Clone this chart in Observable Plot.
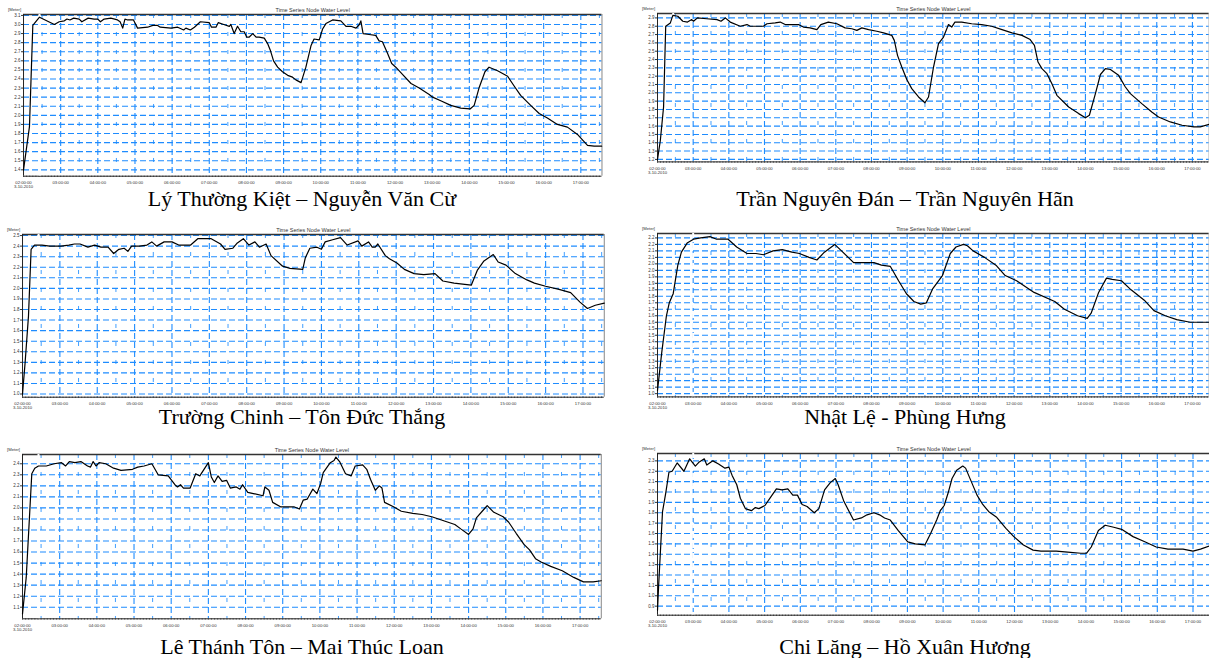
<!DOCTYPE html>
<html>
<head>
<meta charset="utf-8">
<script src="https://cdn.jsdelivr.net/npm/d3@7"></script>
<script src="https://cdn.jsdelivr.net/npm/@observablehq/plot@0.6"></script>
<style>
  html, body { margin: 0; padding: 0; background: #fff; overflow: hidden; }
  #page { position: relative; width: 1209px; height: 658px; overflow: hidden; }
  .panel { position: absolute; }
  .caption { position: absolute; font-family: "Liberation Serif", "DejaVu Serif", serif; font-size: 22px; line-height: 22px; color: #000; white-space: nowrap; transform: translateX(-50%); }
</style>
</head>
<body>
<div id="page"></div>
<script>
// ---------------- DATA ----------------
const chartTitle = "Time Series Node Water Level";
const unitLabel = "[Meter]";
const hourTicks = [2, 3, 4, 5, 6, 7, 8, 9, 10, 11, 12, 13, 14, 15, 16, 17];
const hourLabels = ["02:00:00\n3-10-2010", "03:00:00", "04:00:00", "05:00:00", "06:00:00", "07:00:00", "08:00:00", "09:00:00",
  "10:00:00", "11:00:00", "12:00:00", "13:00:00", "14:00:00", "15:00:00", "16:00:00", "17:00:00"];
const captions = ["Lý Thường Kiệt – Nguyễn Văn Cừ", "Trần Nguyên Đán – Trần Nguyên Hãn", "Trường Chinh – Tôn Đức Thắng",
  "Nhật Lệ - Phùng Hưng", "Lê Thánh Tôn – Mai Thúc Loan", "Chi Lăng – Hồ Xuân Hương"];

// Panel 1: Lý Thường Kiệt – Nguyễn Văn Cừ
const p1Hours = [2.0, 2.16, 2.25, 2.43, 2.83, 2.96, 3.10, 3.17, 3.25, 3.35, 3.50, 3.57, 3.74, 3.90, 4.0, 4.07, 4.17, 4.35, 4.53, 4.60, 4.67, 4.73, 4.80, 4.96, 5.07, 5.34, 5.48, 5.61, 5.68, 5.97, 6.15, 6.31, 6.37, 6.49, 6.60, 6.76, 7.0, 7.06, 7.18, 7.24, 7.39, 7.54, 7.58, 7.67, 7.76, 7.85, 7.94, 8.01, 8.07, 8.17, 8.26, 8.34, 8.48, 8.57, 8.64, 8.73, 8.84, 8.97, 9.11, 9.24, 9.33, 9.47,
  9.60, 9.74, 9.82, 9.96, 10.05, 10.14, 10.32, 10.54, 10.68, 10.81, 10.95, 11.04, 11.08, 11.14, 11.30, 11.48, 11.57, 11.66, 11.80, 11.91, 12.02, 12.20, 12.43, 12.65, 12.92, 13.01, 13.23, 13.50, 13.77, 14.02, 14.13, 14.26, 14.42, 14.53, 14.76, 15.03, 15.21, 15.38, 15.65, 15.88, 16.10, 16.37, 16.64, 16.91, 17.18, 17.36, 17.56];
const p1Levels = [1.40, 1.875, 2.99, 3.08, 3.00, 3.03, 3.04, 3.06, 3.05, 3.07, 3.06, 3.03, 3.07, 3.06, 3.06, 3.03, 3.06, 3.07, 3.05, 3.03, 2.96, 3.06, 3.05, 3.05, 2.96, 2.97, 2.99, 2.99, 2.97, 2.96, 2.97, 2.94, 2.96, 2.94, 2.97, 3.03, 3.02, 2.97, 2.97, 3.02, 3.00, 2.98, 3.00, 2.90, 2.98, 2.92, 2.92, 2.86, 2.86, 2.90, 2.86, 2.86, 2.85, 2.79, 2.72, 2.60, 2.53, 2.48, 2.44, 2.42, 2.39, 2.36,
  2.53, 2.77, 2.84, 2.83, 2.95, 3.01, 3.05, 3.04, 2.98, 2.98, 2.96, 3.00, 3.04, 2.90, 2.89, 2.88, 2.82, 2.81, 2.68, 2.57, 2.53, 2.45, 2.35, 2.30, 2.23, 2.20, 2.16, 2.11, 2.08, 2.07, 2.11, 2.30, 2.48, 2.53, 2.49, 2.43, 2.32, 2.22, 2.11, 2.02, 1.97, 1.90, 1.87, 1.79, 1.67, 1.66, 1.66];

// Panel 2: Trần Nguyên Đán – Trần Nguyên Hãn
const p2Hours = [2.0, 2.08, 2.17, 2.23, 2.36, 2.43, 2.57, 2.71, 2.84, 2.96, 3.01, 3.12, 3.38, 3.67, 3.78, 3.90, 4.04, 4.32, 4.51, 4.60, 4.74, 4.97, 5.07, 5.30, 5.44, 5.58, 5.77, 5.95, 6.09, 6.28, 6.47, 6.58, 6.79, 7.03, 7.26, 7.45, 7.59, 7.73, 7.92, 8.15, 8.34, 8.57, 8.64, 8.73, 8.85, 8.99,
  9.13, 9.32, 9.50, 9.60, 9.74, 9.88, 10.02, 10.16, 10.25, 10.34, 10.53, 10.81, 11.09, 11.37, 11.66, 11.94, 12.22, 12.45, 12.57, 12.67, 12.78, 12.92, 13.06, 13.20, 13.53, 13.81, 14.0, 14.11, 14.28, 14.42, 14.56, 14.70, 14.93, 15.12, 15.26, 15.58, 15.86, 16.05, 16.38, 16.71, 17.04, 17.22, 17.47];
const p2Levels = [1.20, 1.43, 1.83, 2.80, 2.84, 2.93, 2.92, 2.86, 2.85, 2.88, 2.86, 2.90, 2.89, 2.88, 2.86, 2.90, 2.85, 2.80, 2.82, 2.80, 2.80, 2.80, 2.83, 2.84, 2.85, 2.82, 2.82, 2.82, 2.79, 2.78, 2.76, 2.82, 2.85, 2.83, 2.78, 2.77, 2.75, 2.78, 2.76, 2.74, 2.72, 2.69, 2.63, 2.45, 2.31, 2.16,
  2.05, 1.95, 1.88, 1.95, 2.31, 2.59, 2.67, 2.82, 2.79, 2.85, 2.85, 2.83, 2.82, 2.80, 2.76, 2.72, 2.69, 2.64, 2.57, 2.37, 2.29, 2.23, 2.11, 1.97, 1.83, 1.75, 1.70, 1.73, 1.99, 2.22, 2.29, 2.28, 2.21, 2.07, 1.99, 1.87, 1.77, 1.71, 1.65, 1.61, 1.59, 1.59, 1.62];

// Panel 3: Trường Chinh – Tôn Đức Thắng
const p3Hours = [2.0, 2.07, 2.16, 2.23, 2.32, 2.42, 2.52, 2.73, 3.03, 3.24, 3.39, 3.54, 3.75, 3.93, 4.10, 4.29, 4.44, 4.58, 4.72, 4.82, 4.92, 5.13, 5.33, 5.46, 5.59, 5.79, 6.0, 6.18, 6.50, 6.69, 6.86, 7.05, 7.30, 7.42, 7.63, 7.75, 7.91, 8.06, 8.22, 8.34, 8.52, 8.65, 8.96, 9.16, 9.50, 9.57, 9.69, 9.88, 10.0, 10.10, 10.30, 10.51, 10.69, 10.98, 11.08, 11.26, 11.36, 11.44, 11.51, 11.71, 11.82, 12.02, 12.22, 12.48, 12.74, 13.04, 13.25, 13.55, 14.01, 14.17, 14.35, 14.60, 14.73, 14.94, 15.19, 15.50, 15.70, 16.0, 16.36, 16.67, 16.92, 17.12, 17.33, 17.57];
const p3Levels = [1.00, 1.30, 1.74, 2.37, 2.41, 2.41, 2.41, 2.40, 2.40, 2.41, 2.42, 2.42, 2.39, 2.41, 2.39, 2.39, 2.33, 2.37, 2.38, 2.35, 2.40, 2.40, 2.41, 2.44, 2.40, 2.44, 2.44, 2.41, 2.41, 2.47, 2.47, 2.47, 2.42, 2.37, 2.38, 2.43, 2.47, 2.41, 2.44, 2.39, 2.42, 2.31, 2.21, 2.19, 2.18, 2.29, 2.38, 2.39, 2.37, 2.44, 2.46, 2.48, 2.41, 2.45, 2.40, 2.44, 2.39, 2.39, 2.42, 2.31, 2.28, 2.24, 2.18, 2.14, 2.13, 2.14, 2.07, 2.05, 2.03, 2.17, 2.26, 2.32, 2.25, 2.22, 2.14, 2.08, 2.05, 2.02, 1.99, 1.96, 1.87, 1.81, 1.84, 1.86];

// Panel 4: Nhật Lệ - Phùng Hưng
const p4Hours = [2.0, 2.12, 2.25, 2.33, 2.44, 2.57, 2.67, 2.83, 3.01, 3.21, 3.47, 3.66, 3.98, 4.22, 4.51, 4.76, 4.97, 5.24, 5.50, 5.77, 5.98, 6.25, 6.47, 6.68, 6.97, 7.16, 7.50, 7.75, 8.07, 8.28, 8.53, 8.76, 8.98, 9.19, 9.38, 9.54, 9.72, 9.99, 10.21, 10.37, 10.58, 10.69, 10.85, 11.17, 11.49, 11.75, 12.07, 12.56, 13.14, 13.41, 13.78, 14.05, 14.16, 14.37, 14.59, 14.75, 15.01, 15.28, 15.65, 15.92, 16.24, 16.56, 16.94, 17.29, 17.47];
const p4Levels = [1.025, 1.32, 1.60, 1.70, 1.77, 1.99, 2.09, 2.16, 2.19, 2.20, 2.21, 2.19, 2.19, 2.13, 2.08, 2.08, 2.07, 2.10, 2.11, 2.09, 2.08, 2.05, 2.03, 2.09, 2.15, 2.10, 2.01, 2.01, 2.01, 1.99, 1.98, 1.87, 1.77, 1.71, 1.69, 1.70, 1.81, 1.91, 2.08, 2.13, 2.15, 2.14, 2.10, 2.05, 1.99, 1.91, 1.87, 1.78, 1.71, 1.65, 1.60, 1.58, 1.62, 1.78, 1.89, 1.88, 1.87, 1.80, 1.72, 1.64, 1.60, 1.57, 1.55, 1.55, 1.55];

// Panel 5: Lê Thánh Tôn – Mai Thúc Loan
const p5Hours = [2.0, 2.10, 2.25, 2.33, 2.43, 2.64, 2.85, 3.05, 3.16, 3.26, 3.41, 3.57, 3.75, 3.83, 3.90, 3.98, 4.06, 4.24, 4.45, 4.65, 4.96, 5.10, 5.27, 5.48, 5.65, 5.92, 6.10, 6.17, 6.25, 6.33, 6.51, 6.66, 6.77, 7.0, 7.08, 7.16, 7.26, 7.37, 7.49, 7.59, 7.75, 7.85, 7.92, 8.06, 8.21, 8.47, 8.52, 8.63, 8.73, 8.94, 9.30, 9.45, 9.55, 9.66, 9.81, 9.92, 10.02, 10.09, 10.28, 10.38, 10.43, 10.53, 10.69, 10.84, 10.95, 11.15, 11.26, 11.36, 11.49, 11.60, 11.67, 11.74, 11.98, 12.19, 12.50, 12.75, 13.01, 13.27, 13.63, 13.79, 14.0, 14.12, 14.21, 14.42, 14.50, 14.68, 14.93, 15.08, 15.28, 15.49, 15.64, 15.80, 15.95, 16.21, 16.52, 16.83, 17.09, 17.35, 17.57];
const p5Levels = [1.04, 1.37, 2.31, 2.36, 2.38, 2.38, 2.40, 2.41, 2.38, 2.42, 2.41, 2.42, 2.38, 2.37, 2.42, 2.38, 2.41, 2.40, 2.36, 2.34, 2.35, 2.37, 2.38, 2.40, 2.30, 2.29, 2.21, 2.19, 2.21, 2.18, 2.18, 2.31, 2.29, 2.41, 2.28, 2.23, 2.29, 2.24, 2.25, 2.18, 2.19, 2.17, 2.21, 2.14, 2.13, 2.11, 2.19, 2.16, 2.05, 2.01, 2.01, 1.99, 2.07, 2.08, 2.17, 2.13, 2.22, 2.32, 2.41, 2.43, 2.46, 2.42, 2.31, 2.29, 2.38, 2.39, 2.35, 2.26, 2.16, 2.20, 2.18, 2.05, 2.01, 1.97, 1.95, 1.94, 1.92, 1.89, 1.85, 1.81, 1.76, 1.81, 1.91, 1.99, 2.02, 1.96, 1.92, 1.87, 1.77, 1.67, 1.62, 1.54, 1.51, 1.47, 1.43, 1.37, 1.33, 1.33, 1.34];

// Panel 6: Chi Lăng – Hồ Xuân Hương
const p6Hours = [2.0, 2.03, 2.14, 2.23, 2.32, 2.41, 2.55, 2.74, 2.90, 3.06, 3.17, 3.31, 3.38, 3.55, 3.71, 3.89, 4.0, 4.09, 4.22, 4.32, 4.46, 4.63, 4.74, 4.84, 5.01, 5.17, 5.33, 5.49, 5.65, 5.79, 5.92, 6.05, 6.19, 6.39, 6.52, 6.68, 6.84, 6.98, 7.06, 7.22, 7.49, 7.71, 7.87, 8.06, 8.22, 8.36, 8.52, 8.74, 9.01, 9.22, 9.49, 9.65, 9.82, 9.92, 10.03, 10.14, 10.25, 10.38, 10.55, 10.63, 10.79, 10.95, 11.11, 11.28, 11.49, 11.76, 11.98, 12.25, 12.52, 12.74, 13.17, 13.49, 13.86, 14.02, 14.15, 14.35, 14.54, 14.78, 15.0, 15.32, 15.65, 15.97, 16.30, 16.72, 17.0, 17.21, 17.47];
const p6Levels = [0.86, 1.09, 1.81, 1.99, 2.19, 2.20, 2.28, 2.20, 2.32, 2.25, 2.29, 2.32, 2.26, 2.30, 2.27, 2.23, 2.24, 2.16, 2.07, 1.94, 1.84, 1.82, 1.85, 1.84, 1.87, 1.95, 2.03, 2.02, 2.03, 1.97, 1.97, 1.88, 1.86, 1.80, 1.84, 2.02, 2.09, 2.13, 2.07, 1.91, 1.73, 1.75, 1.78, 1.80, 1.78, 1.75, 1.73, 1.63, 1.52, 1.50, 1.49, 1.60, 1.73, 1.82, 1.87, 1.99, 2.13, 2.21, 2.25, 2.23, 2.10, 1.97, 1.88, 1.81, 1.76, 1.65, 1.57, 1.49, 1.44, 1.43, 1.43, 1.42, 1.41, 1.41, 1.47, 1.63, 1.68, 1.66, 1.64, 1.57, 1.52, 1.47, 1.45, 1.45, 1.43, 1.45, 1.48];

// ---------------- LAYOUT ----------------
const BLUE = "#1e8cff";
const step = (a, b, s) => d3.range(Math.round(a / s), Math.round(b / s) + 1).map(k => +(k * s).toFixed(4));

const panels = [
  {hours: p1Hours, levels: p1Levels, caption: captions[0], left: 22.5, right: 601, top: 14.3, bottom: 176, xEnd: 17.57, yDomain: [1.33, 3.11], yTick: [1.4, 3.1], yStep: 0.1, cursor: 2.43, capX: 302, capY: 188},
  {hours: p2Hours, levels: p2Levels, caption: captions[1], left: 657.3, right: 1209, top: 13.3, bottom: 161.7, xEnd: 17.47, yDomain: [1.17, 2.953], yTick: [1.2, 2.9], yStep: 0.1, cursor: 2.44, capX: 905, capY: 188},
  {hours: p3Hours, levels: p3Levels, caption: captions[2], left: 22.2, right: 604, top: 234, bottom: 396.7, xEnd: 17.57, yDomain: [0.97, 2.51], yTick: [1.0, 2.5], yStep: 0.1, cursor: 2.43, capX: 302, capY: 406},
  {hours: p4Hours, levels: p4Levels, caption: captions[3], left: 657.3, right: 1209, top: 233.3, bottom: 396.7, xEnd: 17.47, yDomain: [0.975, 2.234], yTick: [1.0, 2.2], yStep: 0.05, cursor: 3.0, capX: 905, capY: 406},
  {hours: p5Hours, levels: p5Levels, caption: captions[4], left: 22.2, right: 601, top: 454, bottom: 618.3, xEnd: 17.57, yDomain: [0.995, 2.484], yTick: [1.1, 2.4], yStep: 0.1, cursor: 2.43, capX: 302, capY: 636},
  {hours: p6Hours, levels: p6Levels, caption: captions[5], left: 656.7, right: 1209, top: 453.3, bottom: 615, xEnd: 17.47, yDomain: [0.813, 2.371], yTick: [0.9, 2.3], yStep: 0.1, cursor: 3.0, capX: 905, capY: 636}
];

const page = document.getElementById("page");
const fmtY = v => (Math.round(v * 10 + 1e-6) / 10).toFixed(1);

for (const p of panels) {
  const mL = 23, mR = 4, mT = 15, mB = 24;
  const svgLeft = p.left - mL;
  const width = p.right - p.left + mL + mR;
  const height = p.bottom - p.top + mT + mB;
  const data = p.hours.map((h, i) => ({h, v: p.levels[i]}));
  const yTicks = step(p.yTick[0], p.yTick[1], p.yStep);
  const yMinor = step(p.yTick[0] - p.yStep / 2, p.yTick[1] + p.yStep / 2, p.yStep).filter(v => v > p.yDomain[0] && v < p.yDomain[1]).map(v => +(v).toFixed(4)).filter(v => !yTicks.some(t => Math.abs(t - v) < 1e-6));
  const halfHours = hourTicks.map(h => h + 0.5).filter(h => h < p.xEnd);
  const fiveMin = d3.range(0, Math.floor((p.xEnd - 2) * 12) + 1).map(k => 2 + k / 12);

  const chart = Plot.plot({
    width, height,
    marginLeft: mL, marginRight: mR, marginTop: mT, marginBottom: mB,
    x: {domain: [2, p.xEnd]},
    y: {domain: p.yDomain},
    style: {fontFamily: "Liberation Sans, Arial, sans-serif", fontSize: "4.5px", color: "#333", background: "transparent", overflow: "visible"},
    marks: [
      Plot.ruleY(yTicks, {stroke: BLUE, strokeWidth: 1.1, strokeDasharray: "6,3"}),
      Plot.ruleX(hourTicks.slice(1).filter(h => h < p.xEnd), {stroke: BLUE, strokeWidth: 1.1, strokeDasharray: "6,3"}),
      Plot.ruleX(halfHours, {stroke: BLUE, strokeWidth: 1, strokeDasharray: "4,14", strokeOpacity: 0.85}),
      Plot.ruleY([p.yDomain[1]], {stroke: "#333", strokeWidth: 1.6}),
      Plot.ruleY([p.yDomain[0]], {stroke: "#222", strokeWidth: 1}),
      Plot.ruleX([2], {stroke: "#222", strokeWidth: 1}),
      Plot.ruleX([p.xEnd], {stroke: "#888", strokeWidth: 1}),
      Plot.ruleX([p.cursor], {stroke: "white", strokeWidth: 2, strokeDasharray: "5,5"}),
      Plot.axisY({ticks: yTicks, tickSize: 2, tickPadding: 1, tickFormat: fmtY, label: null, fontSize: 4.5}),
      Plot.axisY({ticks: yMinor, tickSize: 1.2, tickFormat: () => "", label: null}),
      Plot.axisX({ticks: fiveMin, tickSize: 1.2, tickFormat: () => "", label: null}),
      Plot.axisX({ticks: hourTicks, tickSize: 0, tickPadding: 5, tickFormat: h => hourLabels[hourTicks.indexOf(h)], label: null, fontSize: 4.2, lineHeight: 1}),
      Plot.line(data, {x: "h", y: "v", stroke: "#000", strokeWidth: 1.2}),
      Plot.text([chartTitle], {frameAnchor: "top", lineAnchor: "bottom", dy: -2.5, fontSize: 5.5, fill: "#333"}),
      Plot.text([unitLabel], {frameAnchor: "top-left", textAnchor: "start", lineAnchor: "bottom", dx: -15.5, dy: -3.5, fontSize: 4.2, fill: "#333"})
    ]
  });
  chart.classList.add("panel");
  chart.style.left = svgLeft + "px";
  chart.style.top = (p.top - mT) + "px";
  page.appendChild(chart);

  const cap = document.createElement("div");
  cap.className = "caption";
  cap.textContent = p.caption;
  cap.style.left = p.capX + "px";
  cap.style.top = p.capY + "px";
  page.appendChild(cap);
}
</script>
</body>
</html>
